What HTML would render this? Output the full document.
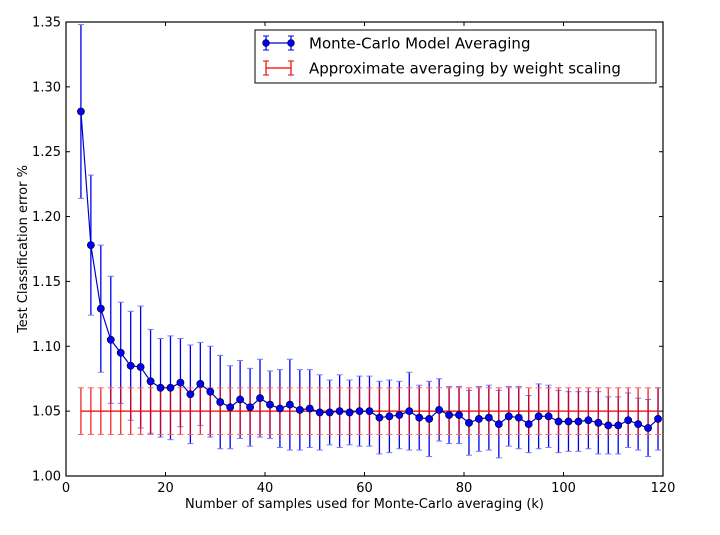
<!DOCTYPE html>
<html><head><meta charset="utf-8"><style>
body{margin:0;background:#fff;}
svg{display:block;font-family:"DejaVu Sans","Liberation Sans",sans-serif;}
</style></head><body>
<svg id="c" width="720" height="535"></svg>
<script>
const ks=[3,5,7,9,11,13,15,17,19,21,23,25,27,29,31,33,35,37,39,41,43,45,47,49,51,53,55,57,59,61,63,65,67,69,71,73,75,77,79,81,83,85,87,89,91,93,95,97,99,101,103,105,107,109,111,113,115,117,119];
const mcMean=[1.281,1.178,1.129,1.105,1.095,1.085,1.084,1.073,1.068,1.068,1.072,1.063,1.071,1.065,1.057,1.053,1.059,1.053,1.060,1.055,1.052,1.055,1.051,1.052,1.049,1.049,1.050,1.049,1.050,1.050,1.045,1.046,1.047,1.050,1.045,1.044,1.051,1.047,1.047,1.041,1.044,1.045,1.040,1.046,1.045,1.040,1.046,1.046,1.042,1.042,1.042,1.043,1.041,1.039,1.039,1.043,1.040,1.037,1.044];
const mcErr=[0.067,0.054,0.049,0.049,0.039,0.042,0.047,0.040,0.038,0.040,0.034,0.038,0.032,0.035,0.036,0.032,0.030,0.030,0.030,0.026,0.030,0.035,0.031,0.030,0.029,0.025,0.028,0.025,0.027,0.027,0.028,0.028,0.026,0.030,0.025,0.029,0.024,0.022,0.022,0.025,0.025,0.025,0.026,0.023,0.024,0.022,0.025,0.024,0.024,0.023,0.023,0.022,0.024,0.022,0.022,0.021,0.020,0.022,0.024];
const wsMean=1.050;
const wsErr=0.018;
const xTicks=[0,20,40,60,80,100,120];
const yTicks=[1.00,1.05,1.10,1.15,1.20,1.25,1.30,1.35];

const NS="http://www.w3.org/2000/svg";
const svg=document.getElementById('c');
const L=66,R=663,T=22,B=476;
const X=v=>L+(v-0)/(120-0)*(R-L);
const Y=v=>B-(v-1.0)/(1.35-1.0)*(B-T);
function mk(tag,attrs,parent){const e=document.createElementNS(NS,tag);for(const k in attrs)e.setAttribute(k,attrs[k]);(parent||svg).appendChild(e);return e;}

// blue error bars
const gB=mk('g',{});


ks.forEach((k,i)=>{
  const x=X(k),y1=Y(mcMean[i]+mcErr[i]),y2=Y(mcMean[i]-mcErr[i]);
  const b=mk('line',{x1:x,x2:x,y1:y1,y2:y2,stroke:'#0000ee',"stroke-width":1.3},gB);
  
  
  mk('line',{x1:x-3,x2:x+3,y1:y1,y2:y1,stroke:'#7777ff',"stroke-width":1},gB);
  mk('line',{x1:x-3,x2:x+3,y1:y2,y2:y2,stroke:'#7777ff',"stroke-width":1},gB);
});

// red series (weight scaling)
const gR=mk('g',{});


ks.forEach(k=>{
  const x=X(k),y1=Y(wsMean+wsErr),y2=Y(wsMean-wsErr);
  const b=mk('line',{x1:x,x2:x,y1:y1,y2:y2,stroke:'#e00',"stroke-width":1.3,"stroke-opacity":0.85},gR);
  
  
  mk('line',{x1:x-3,x2:x+3,y1:y1,y2:y1,stroke:'#f66',"stroke-width":1},gR);
  mk('line',{x1:x-3,x2:x+3,y1:y2,y2:y2,stroke:'#f66',"stroke-width":1},gR);
});
const rl=mk('line',{x1:X(ks[0]),x2:X(ks[ks.length-1]),y1:Y(wsMean),y2:Y(wsMean),stroke:'#e00',"stroke-width":1.3},gR);



// blue line + markers
const gM=mk('g',{});


const pl=mk('polyline',{points:ks.map((k,i)=>X(k)+','+Y(mcMean[i])).join(' '),fill:'none',stroke:'#0000cc',"stroke-width":1.2},gM);


ks.forEach((k,i)=>{
  const c=mk('circle',{cx:X(k),cy:Y(mcMean[i]),r:3.6,fill:'#0000ff',stroke:'#000',"stroke-width":0.6},gM);
  
  
});

// axes frame
const fr=mk('rect',{x:L,y:T,width:R-L,height:B-T,fill:'none',stroke:'#000',"stroke-width":1.2});



xTicks.forEach(t=>{
  const x=X(t);
  mk('line',{x1:x,x2:x,y1:B,y2:B-4,stroke:'#000'});
  mk('line',{x1:x,x2:x,y1:T,y2:T+4,stroke:'#000'});
  const tx=mk('text',{x:x,y:B+16,"text-anchor":'middle',"font-size":13});
  tx.textContent=t;
  
  
});
yTicks.forEach(t=>{
  const y=Y(t);
  mk('line',{x1:L,x2:L+4,y1:y,y2:y,stroke:'#000'});
  mk('line',{x1:R,x2:R-4,y1:y,y2:y,stroke:'#000'});
  const tx=mk('text',{x:L-5,y:y+4.5,"text-anchor":'end',"font-size":13});
  tx.textContent=t.toFixed(2);
  
  
});
const xt=mk('text',{x:(L+R)/2,y:508,"text-anchor":'middle',"font-size":13});
xt.textContent='Number of samples used for Monte-Carlo averaging (k)';


const yt=mk('text',{x:0,y:0,"text-anchor":'middle',"font-size":13,transform:`translate(27,${(T+B)/2}) rotate(-90)`});
yt.textContent='Test Classification error %';



// legend
const lg=mk('g',{});


mk('rect',{x:255,y:30,width:401,height:53,fill:'#fff',stroke:'#000',"stroke-width":1},lg);
mk('line',{x1:266,x2:291,y1:43,y2:43,stroke:'#0000cc',"stroke-width":1.2},lg);
[266,291].forEach(x=>{
  mk('line',{x1:x,x2:x,y1:36,y2:50,stroke:'#0000ee',"stroke-width":1.2},lg);
  mk('line',{x1:x-3,x2:x+3,y1:36,y2:36,stroke:'#0000ee'},lg);
  mk('line',{x1:x-3,x2:x+3,y1:50,y2:50,stroke:'#0000ee'},lg);
  mk('circle',{cx:x,cy:43,r:3.4,fill:'#0000ff',stroke:'#000',"stroke-width":0.6},lg);
});
const l1=mk('text',{x:309,y:48.5,"font-size":15},lg);
l1.textContent='Monte-Carlo Model Averaging';


mk('line',{x1:266,x2:291,y1:68,y2:68,stroke:'#e00',"stroke-width":1.2},lg);
[266,291].forEach(x=>{
  mk('line',{x1:x,x2:x,y1:61,y2:75,stroke:'#e00',"stroke-width":1.2},lg);
  mk('line',{x1:x-3,x2:x+3,y1:61,y2:61,stroke:'#e00'},lg);
  mk('line',{x1:x-3,x2:x+3,y1:75,y2:75,stroke:'#e00'},lg);
});
const l2=mk('text',{x:309,y:73.5,"font-size":15},lg);
l2.textContent='Approximate averaging by weight scaling';


</script>
</body></html>
